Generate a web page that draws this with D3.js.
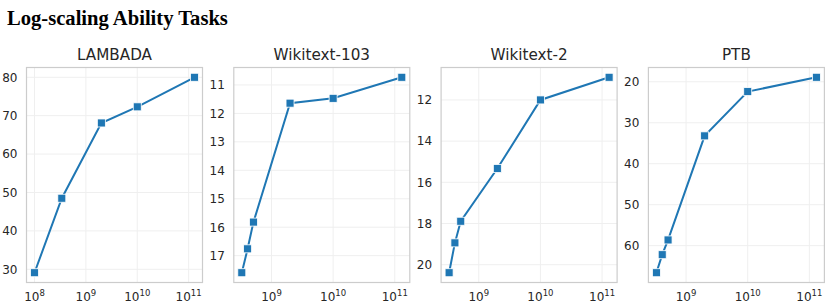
<!DOCTYPE html>
<html>
<head>
<meta charset="utf-8">
<script src="https://cdn.jsdelivr.net/npm/d3@7"></script>
<style>
  body { margin: 0; background: #fff; }
  svg text { font-family: "DejaVu Sans", sans-serif; fill: #262626; }
</style>
</head>
<body>
<svg id="chart" width="830" height="306"></svg>
<script>
// model sizes (parameters)
const xLambada = [1e8, 3.4e8, 2e9, 1e10, 1.3e11];
const xPerplexity = [3.3e8, 4.1e8, 5.1e8, 2e9, 1e10, 1.3e11];

const lambadaValues = [29.1, 48.5, 68.1, 72.3, 80.0];
const wiki103Values = [17.6, 16.76, 15.82, 11.64, 11.47, 10.73];
const wiki2Values = [20.39, 18.94, 17.89, 15.33, 12.0, 10.9];
const ptbValues = [66.6, 62.2, 58.6, 33.2, 22.4, 18.9];

const lambadaTicks = [30, 40, 50, 60, 70, 80];
const wiki103Ticks = [11, 12, 13, 14, 15, 16, 17];
const wiki2Ticks = [12, 14, 16, 18, 20];
const ptbTicks = [20, 30, 40, 50, 60];
const xTicks = [1e8, 1e9, 1e10, 1e11];

const panels = [
  {title: 'LAMBADA', xs: xLambada, ys: lambadaValues, yTicks: lambadaTicks, invert: false},
  {title: 'Wikitext-103', xs: xPerplexity, ys: wiki103Values, yTicks: wiki103Ticks, invert: true},
  {title: 'Wikitext-2', xs: xPerplexity, ys: wiki2Values, yTicks: wiki2Ticks, invert: true},
  {title: 'PTB', xs: xPerplexity, ys: ptbValues, yTicks: ptbTicks, invert: true}
];

const svg = d3.select('#chart');
const color = '#1f77b4';
const panelW = 176, panelH = 215, panelTop = 67.5, firstLeft = 26.5, step = 207.3;

svg.append('text')
  .attr('x', 7)
  .attr('y', 25)
  .style('font-family', '"Liberation Serif", "Times New Roman", serif')
  .style('font-weight', 'bold')
  .style('font-size', '20.6px')
  .style('fill', '#000')
  .text('Log-scaling Ability Tasks');

// pad a domain by 5% like matplotlib autoscale
function padded(lo, hi) {
  const m = (hi - lo) * 0.05;
  return [lo - m, hi + m];
}

panels.forEach((p, i) => {
  const left = firstLeft + i * step;
  const g = svg.append('g').attr('transform', `translate(${left},${panelTop})`);

  const lx = padded(Math.log10(d3.min(p.xs)), Math.log10(d3.max(p.xs)));
  const x = d3.scaleLog()
    .domain([Math.pow(10, lx[0]), Math.pow(10, lx[1])])
    .range([0, panelW]);

  const ly = padded(d3.min(p.ys), d3.max(p.ys));
  const y = d3.scaleLinear()
    .domain(p.invert ? [ly[1], ly[0]] : ly)
    .range([panelH, 0]);

  const xt = xTicks.filter(t => t >= x.domain()[0] && t <= x.domain()[1]);

  // grid
  g.append('g').selectAll('line.vx')
    .data(xt)
    .enter().append('line')
    .attr('x1', d => x(d)).attr('x2', d => x(d))
    .attr('y1', 0).attr('y2', panelH)
    .attr('stroke', '#efefef').attr('stroke-width', 1);

  g.append('g').selectAll('line.hy')
    .data(p.yTicks)
    .enter().append('line')
    .attr('x1', 0).attr('x2', panelW)
    .attr('y1', d => y(d)).attr('y2', d => y(d))
    .attr('stroke', '#efefef').attr('stroke-width', 1);

  // frame
  g.append('rect')
    .attr('width', panelW).attr('height', panelH)
    .attr('fill', 'none')
    .attr('stroke', '#cccccc')
    .attr('stroke-width', 1.2);

  // y tick labels
  g.append('g').selectAll('text')
    .data(p.yTicks)
    .enter().append('text')
    .attr('x', -9)
    .attr('y', d => y(d))
    .attr('dy', '0.36em')
    .attr('text-anchor', 'end')
    .style('font-size', '12px')
    .text(d => d);

  // x tick labels with superscript exponent
  const xl = g.append('g').selectAll('text')
    .data(xt)
    .enter().append('text')
    .attr('x', d => x(d))
    .attr('y', panelH + 18.5)
    .attr('text-anchor', 'middle')
    .style('font-size', '12px');
  xl.append('tspan').text('10');
  xl.append('tspan')
    .attr('dy', -5)
    .style('font-size', '8.5px')
    .text(d => Math.round(Math.log10(d)));

  // title
  g.append('text')
    .attr('x', panelW / 2)
    .attr('y', -7.5)
    .attr('text-anchor', 'middle')
    .style('font-size', '15.2px')
    .text(p.title);

  const pts = p.xs.map((v, j) => [v, p.ys[j]]);

  g.append('path')
    .datum(pts)
    .attr('fill', 'none')
    .attr('stroke', color)
    .attr('stroke-width', 2)
    .attr('d', d3.line().x(d => x(d[0])).y(d => y(d[1])));

  g.append('g').selectAll('rect')
    .data(pts)
    .enter().append('rect')
    .attr('x', d => x(d[0]) - 4)
    .attr('y', d => y(d[1]) - 4)
    .attr('width', 8).attr('height', 8)
    .attr('fill', color)
    .attr('stroke', '#fff')
    .attr('stroke-width', 0.8);
});
</script>
</body>
</html>
